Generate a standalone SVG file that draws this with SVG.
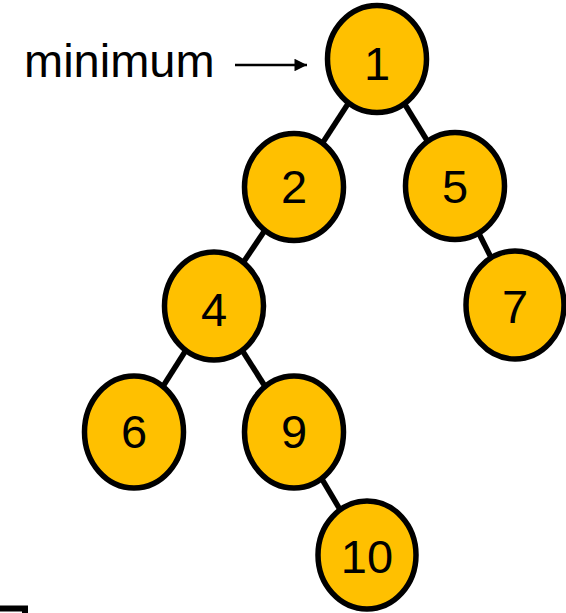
<svg xmlns="http://www.w3.org/2000/svg" width="566" height="613" viewBox="0 0 566 613">
<defs>
<style>
.node ellipse{fill:#FFC000;stroke:#000;stroke-width:5.5}
.node text{font-family:"Liberation Sans",Arial,sans-serif;font-size:47px;fill:#000;text-anchor:middle}
.edge{stroke:#000;stroke-width:5.5;fill:none}
.label{font-family:"Liberation Sans",Arial,sans-serif;font-size:47px;fill:#000}
</style>
<marker id="arr" viewBox="0 0 10 10" refX="10" refY="5" markerWidth="6.5" markerHeight="5" markerUnits="strokeWidth" orient="auto">
<path d="M0 0 L10 5 L0 10 Z" fill="#000"/>
</marker>
</defs>
<rect width="566" height="613" fill="#fff"/>
<g id="connectors">
<line class="edge" x1="377" y1="59" x2="294" y2="187"/>
<line class="edge" x1="377" y1="59" x2="455" y2="186"/>
<line class="edge" x1="294" y1="187" x2="214" y2="306"/>
<line class="edge" x1="455" y1="186" x2="515" y2="305"/>
<line class="edge" x1="214" y1="306" x2="134" y2="432"/>
<line class="edge" x1="214" y1="306" x2="294" y2="432"/>
<line class="edge" x1="294" y1="432" x2="367" y2="555"/>
<line x1="235" y1="65" x2="307" y2="65" stroke="#000" stroke-width="2.5" marker-end="url(#arr)"/>
</g>
<text class="label" x="24" y="77">minimum</text>
<g id="n1" class="node"><ellipse cx="377" cy="59" rx="49.5" ry="53.5"/><text x="377" y="80">1</text></g>
<g id="n2" class="node"><ellipse cx="294" cy="187" rx="49.5" ry="53.5"/><text x="294" y="203">2</text></g>
<g id="n5" class="node"><ellipse cx="455" cy="186" rx="49.5" ry="53.5"/><text x="455" y="203">5</text></g>
<g id="n4" class="node"><ellipse cx="214" cy="306" rx="49.5" ry="54"/><text x="214" y="326">4</text></g>
<g id="n7" class="node"><ellipse cx="515" cy="305" rx="49" ry="54"/><text x="515" y="323">7</text></g>
<g id="n6" class="node"><ellipse cx="134" cy="432" rx="49.5" ry="56"/><text x="134" y="448">6</text></g>
<g id="n9" class="node"><ellipse cx="294" cy="432" rx="49.5" ry="56"/><text x="294" y="448">9</text></g>
<g id="n10" class="node"><ellipse cx="367" cy="555" rx="49" ry="54"/><text x="367" y="573">10</text></g>
<path d="M0 608.5 H25 V613" stroke="#000" stroke-width="6" fill="none"/>
</svg>
